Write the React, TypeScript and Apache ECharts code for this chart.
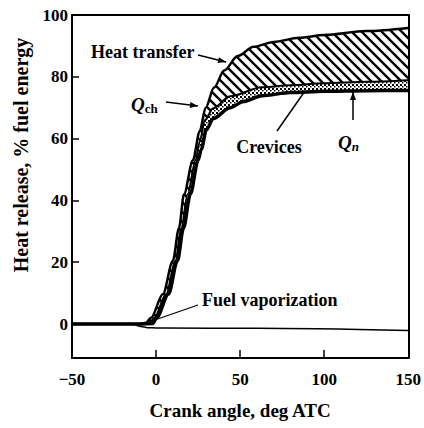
import React, { useEffect, useRef } from "react";
import * as echarts from "echarts";

// Crank angle (deg ATC) ticks and heat release (% fuel energy) ticks
const crankAngleTicks = [-50, 0, 50, 100, 150];
const heatReleaseTicks = [0, 20, 40, 60, 80, 100];

// Gross (chemical) heat release Q_ch: [crank angle, % fuel energy]
const qChemical: [number, number][] = [
  [-50, 0], [-10, 0], [-6, 0.4], [-3, 2], [4.1, 9.7], [10, 20.5], [13.6, 31],
  [16.6, 42], [21.9, 53], [26, 62.5], [29.5, 70], [34.5, 76.5], [40.5, 82],
  [48.5, 86.7], [58, 89.7], [70, 91.3], [85, 92.6], [100, 93.5], [125, 94.8],
  [150, 95.8],
];

// Q_ch minus heat transfer (top of crevice band)
const qAfterHeatTransfer: [number, number][] = [
  [-50, 0], [-10, 0], [-4, 0.3], [-1, 2], [6, 9.7], [11.5, 20.5], [15, 31],
  [18.8, 42], [23.5, 53], [26, 59], [29, 66], [34, 69.8], [44, 73.7],
  [63, 76.6], [80, 77.3], [100, 77.9], [125, 78.4], [150, 78.9],
];

// Net heat release Q_n
const qNet: [number, number][] = [
  [-50, 0], [-10, 0], [-2, 0.2], [0.3, 2], [7.4, 9.7], [12.7, 20.5],
  [16.3, 31], [20.4, 42], [25, 53], [26.9, 56.5], [29.8, 62.7], [34, 66.5],
  [44, 70], [52, 72], [63, 73.9], [80, 74.9], [100, 75.3], [125, 75.5],
  [150, 75.6],
];

// Fuel vaporization
const fuelVaporization: [number, number][] = [
  [-50, 0], [-14, 0], [-9, -0.8], [-5, -1.2], [0, -1.3], [5, -1.3],
  [60, -1.4], [150, -2.1],
];

const FONT = "'Liberation Serif', 'DejaVu Serif', serif";

function makeHatch(): any {
  const s = 10;
  const c = document.createElement("canvas");
  c.width = s;
  c.height = s;
  const g = c.getContext("2d")!;
  g.fillStyle = "#fff";
  g.fillRect(0, 0, s, s);
  g.strokeStyle = "#000";
  g.lineWidth = 2.4;
  g.beginPath();
  for (let k = -1; k <= 1; k++) {
    g.moveTo(-2, -2 + k * s);
    g.lineTo(s + 2, s + 2 + k * s);
  }
  g.stroke();
  return { image: c.toDataURL(), repeat: "repeat", imageWidth: s, imageHeight: s };
}

function makeDots(): any {
  const s = 4;
  const c = document.createElement("canvas");
  c.width = s;
  c.height = s;
  const g = c.getContext("2d")!;
  g.fillStyle = "#fff";
  g.fillRect(0, 0, s, s);
  g.fillStyle = "#000";
  g.fillRect(0, 0, 2, 2);
  g.fillRect(2, 2, 1.5, 1.5);
  return { image: c.toDataURL(), repeat: "repeat", imageWidth: s, imageHeight: s };
}

export default function App() {
  const ref = useRef<HTMLDivElement>(null);

  useEffect(() => {
    if (!ref.current) return;
    const chart = echarts.init(ref.current, null, { renderer: "svg" });
    const txt = { fontFamily: FONT, fontWeight: "bold" as const, fontSize: 18, fill: "#000" };

    const arrow = (tip: [number, number], from: [number, number]) => {
      const dx = tip[0] - from[0];
      const dy = tip[1] - from[1];
      const L = Math.hypot(dx, dy);
      const ux = dx / L, uy = dy / L;
      const nx = -uy, ny = ux;
      const bx = tip[0] - 8 * ux, by = tip[1] - 8 * uy;
      return [
        { type: "line", shape: { x1: from[0], y1: from[1], x2: tip[0], y2: tip[1] }, style: { stroke: "#000", lineWidth: 1.5 }, z: 20 },
        { type: "polygon", shape: { points: [tip, [bx + 3 * nx, by + 3 * ny], [bx - 3 * nx, by - 3 * ny]] }, style: { fill: "#000" }, z: 20 },
      ];
    };

    const lineSeries = (name: string, data: [number, number][], width: number, area: any, z: number) => ({
      name,
      type: "line",
      data,
      smooth: 0.3,
      smoothMonotone: "x",
      showSymbol: false,
      symbol: "none",
      z,
      lineStyle: { color: "#000", width },
      itemStyle: { color: "#000" },
      areaStyle: area ? { color: area, opacity: 1, origin: 0 } : undefined,
    });

    chart.setOption({
      animation: false,
      backgroundColor: "#fff",
      grid: { left: 72, right: 14, top: 15, bottom: 70 },
      xAxis: [
        {
          type: "value",
          min: -50,
          max: 150,
          interval: 50,
          z: 10,
          axisLine: { show: true, onZero: false, lineStyle: { color: "#000", width: 2 } },
          axisTick: { show: true, inside: true, length: 8, lineStyle: { color: "#000", width: 1.5 }, customValues: crankAngleTicks },
          axisLabel: { color: "#000", fontFamily: FONT, fontWeight: "bold", fontSize: 17, margin: 13, customValues: crankAngleTicks, formatter: (v: number) => (v < 0 ? "\u2212" + Math.abs(v) : String(v)) },
          splitLine: { show: false },
          name: "Crank angle, deg ATC",
          nameLocation: "middle",
          nameGap: 43,
          nameTextStyle: { color: "#000", fontFamily: FONT, fontWeight: "bold", fontSize: 19 },
        },
        {
          type: "value",
          position: "top",
          min: -50,
          max: 150,
          z: 10,
          axisLine: { show: true, onZero: false, lineStyle: { color: "#000", width: 2 } },
          axisTick: { show: false },
          axisLabel: { show: false },
          splitLine: { show: false },
        },
      ],
      yAxis: [
        {
          type: "value",
          min: -11,
          max: 100,
          z: 10,
          axisLine: { show: true, onZero: false, lineStyle: { color: "#000", width: 2 } },
          axisTick: { show: true, inside: true, length: 7, lineStyle: { color: "#000", width: 1.5 }, customValues: heatReleaseTicks },
          axisLabel: { color: "#000", fontFamily: FONT, fontWeight: "bold", fontSize: 17, margin: 4, customValues: heatReleaseTicks },
          splitLine: { show: false },
        },
        {
          type: "value",
          position: "right",
          min: -11,
          max: 100,
          z: 10,
          axisLine: { show: true, onZero: false, lineStyle: { color: "#000", width: 2 } },
          axisTick: { show: false },
          axisLabel: { show: false },
          splitLine: { show: false },
        },
      ],
      series: [
        lineSeries("Q_ch", qChemical, 2.5, makeHatch(), 2),
        lineSeries("Heat transfer", qAfterHeatTransfer, 2, makeDots(), 3),
        lineSeries("Q_n", qNet, 3.5, "#fff", 4),
        lineSeries("Fuel vaporization", fuelVaporization, 1.5, null, 5),
      ],
      graphic: [
        { type: "text", x: 21, y: 155, rotation: Math.PI / 2, z: 20, style: { ...txt, fontSize: 20, text: "Heat release, % fuel energy", align: "center", verticalAlign: "middle" } },
        { type: "text", x: 91, y: 52, z: 20, style: { ...txt, text: "Heat transfer", align: "left", verticalAlign: "middle" } },
        ...arrow([226, 62], [198, 55]),
        {
          type: "text", x: 131, y: 104, z: 20,
          style: {
            text: "{q|Q}{s|ch}", align: "left", verticalAlign: "middle", fill: "#000",
            rich: {
              q: { fontFamily: FONT, fontWeight: "bold", fontStyle: "italic", fontSize: 19, fill: "#000" },
              s: { fontFamily: FONT, fontWeight: "bold", fontSize: 13, fill: "#000", padding: [8, 0, 0, 0] },
            },
          },
        },
        ...arrow([198, 106], [166, 102]),
        { type: "text", x: 269, y: 147, z: 20, style: { ...txt, text: "Crevices", align: "center", verticalAlign: "middle" } },
        { type: "line", shape: { x1: 277, y1: 131, x2: 305, y2: 91 }, style: { stroke: "#000", lineWidth: 1.5 }, z: 20 },
        {
          type: "text", x: 338, y: 142, z: 20,
          style: {
            text: "{q|Q}{s|n}", align: "left", verticalAlign: "middle", fill: "#000",
            rich: {
              q: { fontFamily: FONT, fontWeight: "bold", fontStyle: "italic", fontSize: 19, fill: "#000" },
              s: { fontFamily: FONT, fontWeight: "bold", fontStyle: "italic", fontSize: 13, fill: "#000", padding: [8, 0, 0, 0] },
            },
          },
        },
        ...arrow([353, 92], [353, 120]),
        { type: "text", x: 202, y: 300, z: 20, style: { ...txt, text: "Fuel vaporization", align: "left", verticalAlign: "middle" } },
        { type: "line", shape: { x1: 198, y1: 305, x2: 149, y2: 322 }, style: { stroke: "#000", lineWidth: 1.2 }, z: 20 },
      ],
    });

    return () => chart.dispose();
  }, []);

  return <div ref={ref} style={{ width: 424, height: 428, position: "absolute", left: 0, top: 0 }} />;
}
